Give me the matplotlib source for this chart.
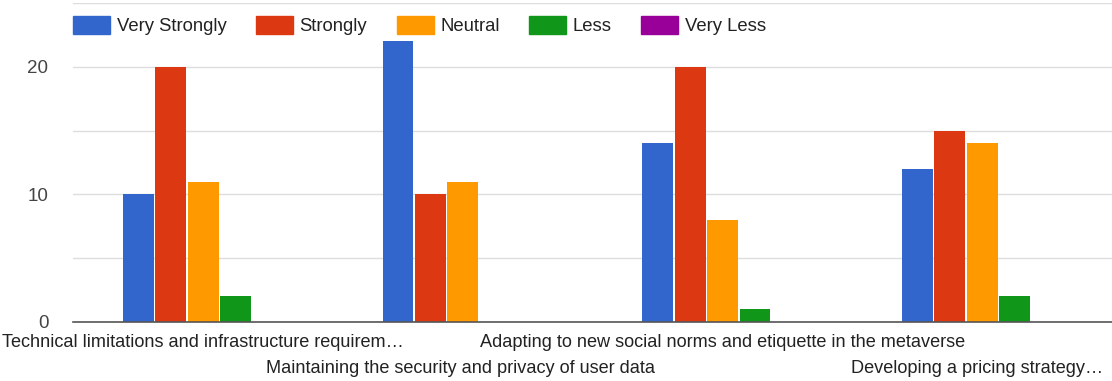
import numpy as np
import matplotlib.pyplot as plt
from matplotlib.patches import Patch

plt.rcParams['font.family'] = ['Liberation Sans', 'DejaVu Sans']

categories = ['Technical limitations and infrastructure requirem…',
              'Maintaining the security and privacy of user data',
              'Adapting to new social norms and etiquette in the metaverse',
              'Developing a pricing strategy…']
series = ['Very Strongly', 'Strongly', 'Neutral', 'Less', 'Very Less']
very_strongly = [10, 22, 14, 12]
strongly = [20, 10, 20, 15]
neutral = [11, 11, 8, 14]
less = [2, 0, 1, 2]
very_less = [0, 0, 0, 0]
colors = ['#3366cc', '#dc3912', '#ff9900', '#109618', '#990099']

fig = plt.figure(figsize=(11.12, 3.81), dpi=100)
ax = fig.add_axes([0.066, 0.155, 0.934, 0.837])

x = np.arange(len(categories))
w = 0.125
values = [very_strongly, strongly, neutral, less, very_less]
for i, (vals, c) in enumerate(zip(values, colors)):
    ax.bar(x + (i - 2) * w, vals, width=w - 0.006, color=c, zorder=3)

ax.set_xlim(-0.5, 3.5)
ax.set_ylim(0, 25)
ax.set_yticks([0, 10, 20])
ax.set_yticks([5, 15, 25], minor=True)
ax.grid(axis='y', which='both', color='#dddddd', linewidth=1, zorder=0)
ax.tick_params(axis='y', which='both', length=0, labelsize=13.5, labelcolor='#444444', pad=18)
ax.set_xticks([])
for s in ['top', 'right', 'left']:
    ax.spines[s].set_visible(False)
ax.spines['bottom'].set_color('#555555')
ax.spines['bottom'].set_linewidth(1.2)
ax.spines['bottom'].set_zorder(4)

# category labels alternate between two rows
offsets = [0, -0.008, 0, -0.02]
for i, lab in enumerate(categories):
    y = -0.065 if i % 2 == 0 else -0.145
    ax.text(i + offsets[i], y, lab, transform=ax.get_xaxis_transform(),
            ha='center', va='center', fontsize=13.1, color='#222222')

handles = [Patch(color=c) for c in colors]
ax.legend(handles, series, ncol=5, loc='upper left', bbox_to_anchor=(0.0, 0.96),
          frameon=False, fontsize=13.3, handlelength=2.0, handleheight=1.15,
          handletextpad=0.35, columnspacing=1.6, borderpad=0, borderaxespad=0,
          labelcolor='#222222')

fig.savefig('out.png', dpi=100, facecolor='white')
